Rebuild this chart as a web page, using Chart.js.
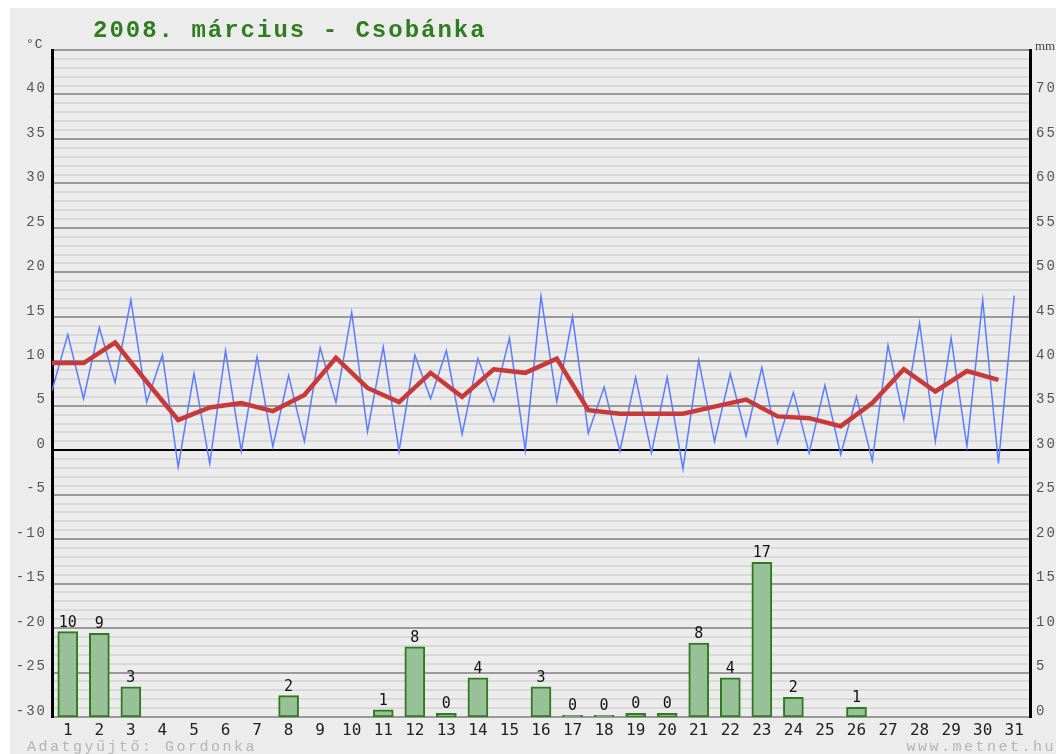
<!DOCTYPE html>
<html>
<head>
<meta charset="utf-8">
<title>2008. március - Csobánka</title>
<script src="https://cdn.jsdelivr.net/npm/chart.js@4/dist/chart.umd.min.js"></script>
<style>
  body { margin: 0; background: #fff; }
  #wrap { position: absolute; left: 10px; top: 8px; width: 1046px; height: 746px; background: #ececec; }
</style>
</head>
<body>
<div id="wrap"><canvas id="chart" width="1046" height="746"></canvas></div>
<script>
const days = Array.from({ length: 31 }, (_, i) => i + 1);

// night minimum (drawn at the start of the day) and day maximum (mid-day), °C
const minTemp = [6.7, 5.8, 7.6, 5.4, -1.9, -1.5, -0.1, 0.4, 1.0, 5.4, 2.1, -0.1, 5.8, 1.8, 5.5, 0.0,
    5.5, 1.9, -0.1, -0.3, -2.1, 1.0, 1.6, 0.8, -0.3, -0.5, -1.2, 3.5, 1.0, 0.4, -1.5];
const maxTemp = [13.0, 13.8, 16.9, 10.7, 8.6, 11.2, 10.5, 8.4, 11.5, 15.5, 11.6, 10.7, 11.2, 10.3, 12.6, 17.3,
    15.0, 7.1, 8.2, 8.2, 10.1, 8.6, 9.3, 6.5, 7.3, 6.0, 11.8, 14.3, 12.6, 16.9, 17.4];
// daily mean, °C
const meanTemp = [9.8, 9.8, 12.1, 7.7, 3.4, 4.8, 5.3, 4.4, 6.2, 10.4, 7.0, 5.4, 8.7, 6.0, 9.1, 8.7,
    10.3, 4.5, 4.1, 4.1, 4.1, 4.9, 5.7, 3.8, 3.6, 2.7, 5.3, 9.1, 6.6, 8.9, 7.9];
// precipitation, mm (null = no rain)
const rain = [9.6, 9.4, 3.4, null, null, null, null, 2.4, null, null, 0.8, 7.9, 0.4, 4.4, null, 3.4,
    0.2, 0.2, 0.4, 0.4, 8.3, 4.4, 17.4, 2.2, null, 1.1, null, null, null, null, null];

const tempMin = -30, tempMax = 45;
const rainMax = 75;

const mono = "'Liberation Mono', 'DejaVu Sans Mono', monospace";

const minMaxPoints = [];
days.forEach((d, i) => {
    minMaxPoints.push({ x: d - 1, y: minTemp[i] });
    minMaxPoints.push({ x: d - 0.5, y: maxTemp[i] });
});
const meanPoints = days.map((d, i) => ({ x: d - 1, y: meanTemp[i] }));
const rainPoints = days.map((d, i) => ({ x: d - 0.5, y: rain[i] })).filter(p => p.y !== null);

// wider letter spacing on the temperature / mm tick labels
const spacedLabels = {
    id: "spacedLabels",
    beforeDraw(chart) {
        ["y", "y2"].forEach(id => {
            const s = chart.scales[id];
            if (s._spaced) return;
            const orig = s.drawLabels.bind(s);
            s.drawLabels = (area) => {
                s.ctx.save();
                s.ctx.letterSpacing = "2px";
                orig(area);
                s.ctx.restore();
            };
            s._spaced = true;
        });
    }
};

const extraText = {
    id: "extraText",
    afterDraw(chart) {
        const ctx = chart.ctx;
        ctx.save();

        // title
        ctx.letterSpacing = "2px";
        ctx.font = "bold 24px " + mono;
        ctx.fillStyle = "#2f7d1f";
        ctx.textAlign = "left";
        ctx.textBaseline = "alphabetic";
        ctx.fillText("2008. március - Csobánka", 83, 29);

        // unit labels
        ctx.letterSpacing = "1px";
        ctx.font = "13px " + mono;
        ctx.fillStyle = "#444";
        ctx.fillText("°C", 16, 40);
        ctx.letterSpacing = "0px";
        ctx.font = "13px 'Liberation Serif', serif";
        ctx.fillText("mm", 1025, 42);

        // footer
        ctx.letterSpacing = "2.5px";
        ctx.font = "15px " + mono;
        ctx.fillStyle = "#b4b4b4";
        ctx.fillText("Adatgyűjtő: Gordonka", 17, 743);
        ctx.textAlign = "right";
        ctx.fillText("www.metnet.hu", 1046, 743);

        // rain values above the bars
        ctx.letterSpacing = "0px";
        ctx.font = "15px 'DejaVu Sans Mono', monospace";
        ctx.fillStyle = "#111";
        ctx.textAlign = "center";
        chart.getDatasetMeta(2).data.forEach((bar, i) => {
            ctx.fillText(String(Math.round(rainPoints[i].y)), bar.x, bar.y - 5);
        });
        ctx.restore();
    }
};

new Chart(document.getElementById("chart"), {
    type: "bar",
    data: {
        datasets: [
            {
                type: "line",
                label: "Átlaghőmérséklet",
                data: meanPoints,
                borderColor: "#c83a3a",
                borderWidth: 4.5,
                pointRadius: 0,
                tension: 0,
                yAxisID: "y",
                order: 0,
            },
            {
                type: "line",
                label: "Min / max",
                data: minMaxPoints,
                borderColor: "#5a7cff",
                borderWidth: 1.5,
                pointRadius: 0,
                tension: 0,
                yAxisID: "y",
                order: 1,
            },
            {
                type: "bar",
                label: "Csapadék",
                data: rainPoints,
                backgroundColor: "#99c199",
                borderColor: "#2f7a1c",
                borderWidth: 2,
                borderSkipped: false,
                barThickness: 20,
                yAxisID: "y2",
                order: 2,
            },
        ],
    },
    options: {
        responsive: false,
        animation: false,
        layout: { padding: { top: 42 } },
        plugins: {
            legend: { display: false },
            tooltip: { enabled: false },
        },
        scales: {
            x: {
                type: "linear",
                min: 0,
                max: 31,
                offset: false,
                afterBuildTicks: (s) => { s.ticks = days.map(d => ({ value: d - 0.5 })); },
                afterFit: (s) => { s.height = 37; },
                grid: { display: false, drawTicks: false },
                border: { display: false },
                ticks: {
                    autoSkip: false,
                    maxRotation: 0,
                    padding: 4,
                    color: "#222",
                    font: { family: "'DejaVu Sans Mono', monospace", size: 16 },
                    callback: (v) => String(v + 0.5),
                },
            },
            y: {
                position: "left",
                min: tempMin,
                max: tempMax,
                afterFit: (s) => { s.width = 42; },
                grid: {
                    drawTicks: false,
                    color: (c) => c.tick.value === 0 ? "#000" : (c.tick.value % 5 === 0 ? "#9a9a9a" : "#d9d9d9"),
                    lineWidth: 2,
                },
                border: { display: true, color: "#000", width: 3 },
                ticks: {
                    stepSize: 1,
                    autoSkip: false,
                    padding: 5,
                    labelOffset: -6,
                    color: "#555",
                    font: { family: mono, size: 14 },
                    callback: (v) => (v % 5 === 0 && v < tempMax) ? String(v) : "",
                },
            },
            y2: {
                position: "right",
                min: 0,
                max: rainMax,
                afterFit: (s) => { s.width = 26; },
                grid: { display: false, drawTicks: false },
                border: { display: true, color: "#000", width: 3 },
                ticks: {
                    stepSize: 5,
                    autoSkip: false,
                    padding: 6,
                    labelOffset: -6,
                    color: "#555",
                    font: { family: mono, size: 14 },
                    callback: (v) => v < rainMax ? String(v) : "",
                },
            },
        },
    },
    plugins: [spacedLabels, extraText],
});
</script>
</body>
</html>
